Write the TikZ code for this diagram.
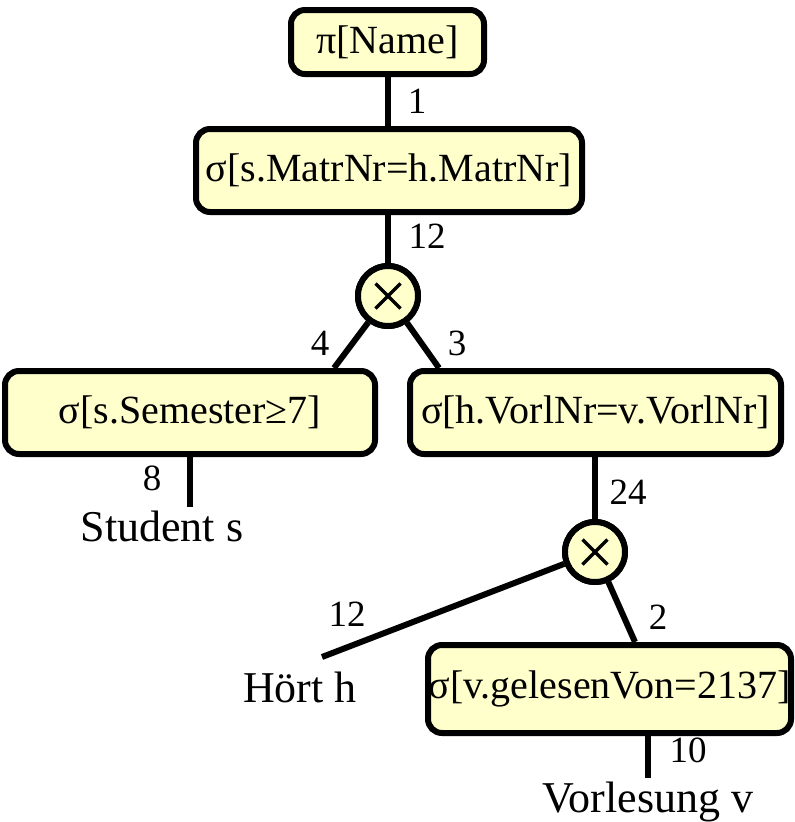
\documentclass[tikz,border=0pt]{standalone}
\usepackage{fontspec}
\setmainfont{Liberation Serif}
\usetikzlibrary{calc}
\definecolor{boxfill}{HTML}{FFFFCC}
\tikzset{
  opbox/.style={draw=black, fill=boxfill, line width=6pt, rounded corners=14pt, inner sep=0pt, font=\fontsize{40}{48}\selectfont},
  opcirc/.style={draw=black, fill=boxfill, line width=6pt, circle, inner sep=0pt, minimum size=60pt},
  relname/.style={inner sep=0pt, anchor=base, font=\fontsize{44}{52}\selectfont},
  card/.style={inner sep=0pt, font=\fontsize{37}{44}\selectfont},
  edge/.style={line width=6pt},
  cross/.style={line width=3.5pt}
}
\begin{document}
\begin{tikzpicture}[x=1pt, y=-1pt]
\useasboundingbox (0,0) rectangle (795,822);
% operator nodes
\node[opbox, minimum width=193pt, minimum height=64pt] (pi) at (387.5,42) {π[Name]};
\node[opbox, minimum width=386pt, minimum height=83pt] (m) at (389,170.5) {σ[s.MatrNr=h.MatrNr]};
\node[opcirc] (x1) at (388,296) {};
\node[opbox, minimum width=370pt, minimum height=83pt] (sem) at (190,412.5) {σ[s.Semester≥7]};
\node[opbox, minimum width=371pt, minimum height=83pt] (vnr) at (595.5,412.5) {σ[h.VorlNr=v.VorlNr]};
\node[opcirc] (x2) at (595,552) {};
\node[opbox, minimum width=363pt, minimum height=88pt] (gv) at (609.5,689) {σ[v.gelesenVon=2137]};
% relations
\node[relname] (stud) at (162,541) {Student s};
\node[relname] (hoert) at (300,702) {Hört h};
\node[relname] (vorl) at (648,812) {Vorlesung v};
\coordinate (studtop) at (190,507);
\coordinate (hoertend) at (322,657);
\coordinate (vorltop) at (648,778);
% connectors
\draw[edge] (pi.south) -- (pi.south |- m.north);
\draw[edge] (m.south -| x1) -- (x1);
\draw[edge] (x1) -- ($(sem.north west)+(332,0)$);
\draw[edge] (x1) -- ($(vnr.north west)+(32,0)$);
\draw[edge] (sem.south) -- (studtop);
\draw[edge] (vnr.south -| x2) -- (x2);
\draw[edge] (x2) -- (hoertend);
\draw[edge] (x2) -- ($(gv.north west)+(210,0)$);
\draw[edge] (gv.south -| vorltop) -- (vorltop);
% cross-product circles on top of connectors
\node[opcirc] (x1top) at (x1) {};
\node[opcirc] (x2top) at (x2) {};
\draw[cross] ($(x1)+(-12.5,-12.5)$) -- ($(x1)+(12.5,12.5)$);
\draw[cross] ($(x1)+(-12.5,12.5)$) -- ($(x1)+(12.5,-12.5)$);
\draw[cross] ($(x2)+(-12.5,-12.5)$) -- ($(x2)+(12.5,12.5)$);
\draw[cross] ($(x2)+(-12.5,12.5)$) -- ($(x2)+(12.5,-12.5)$);
% cardinality labels
\node[card] (n1) at (417,101) {1};
\node[card] (n12a) at (427,236) {12};
\node[card] (n4) at (320,343) {4};
\node[card] (n3) at (457,343) {3};
\node[card] (n8) at (152,478) {8};
\node[card] (n24) at (628,492) {24};
\node[card] (n12b) at (347,614) {12};
\node[card] (n2) at (658,617) {2};
\node[card] (n10) at (688,750) {10};
\end{tikzpicture}
\end{document}
